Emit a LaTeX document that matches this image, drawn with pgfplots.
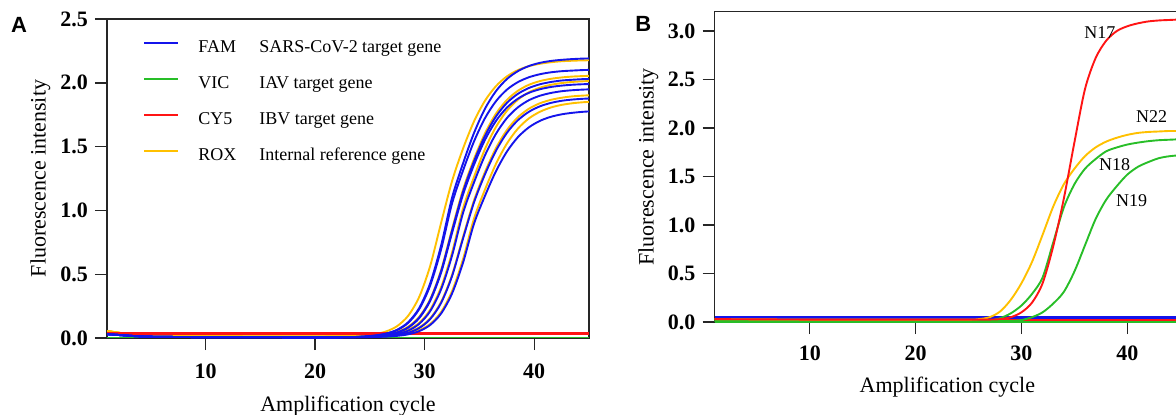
\documentclass[border=0pt]{standalone}
\usepackage{fontspec}
\setmainfont{Liberation Serif}
\newfontfamily\arialfont{Liberation Sans}
\usepackage{pgfplots}
\usepackage{pgfplotstable}
\pgfplotsset{compat=1.18}

\definecolor{famblue}{RGB}{20,20,235}
\definecolor{vicgreen}{RGB}{40,190,40}
\definecolor{cyred}{RGB}{255,20,20}
\definecolor{roxyellow}{RGB}{255,192,0}

% panel A: Y = ROX curves, B = FAM curves
\pgfplotstableread{
x    Y1    B1    B2    Y2    B3    B4    Y3    B5    Y4    B6    Y5    B7
1    0.055 0.030 0.030 0.055 0.030 0.030 0.055 0.030 0.055 0.030 0.055 0.030
2    0.042 0.024 0.024 0.042 0.024 0.024 0.042 0.024 0.042 0.024 0.042 0.024
3    0.030 0.018 0.018 0.030 0.018 0.018 0.030 0.018 0.030 0.018 0.030 0.018
4    0.022 0.013 0.013 0.022 0.013 0.013 0.022 0.013 0.022 0.013 0.022 0.013
6    0.016 0.009 0.009 0.016 0.009 0.009 0.016 0.009 0.016 0.009 0.016 0.009
10   0.013 0.007 0.007 0.013 0.007 0.007 0.013 0.007 0.013 0.007 0.013 0.007
15   0.012 0.006 0.006 0.012 0.006 0.006 0.012 0.006 0.012 0.006 0.012 0.006
20   0.012 0.005 0.005 0.012 0.005 0.005 0.012 0.005 0.012 0.005 0.012 0.005
23   0.013 0.006 0.006 0.013 0.006 0.006 0.013 0.006 0.012 0.006 0.012 0.006
24.5 0.020 0.012 0.012 0.015 0.010 0.010 0.013 0.008 0.012 0.007 0.012 0.006
25.5 0.031 0.020 0.019 0.020 0.015 0.014 0.017 0.011 0.014 0.009 0.013 0.008
26.5 0.052 0.035 0.034 0.029 0.024 0.024 0.023 0.018 0.019 0.014 0.016 0.011
27.5 0.094 0.065 0.063 0.050 0.044 0.043 0.037 0.032 0.028 0.023 0.022 0.017
28.5 0.175 0.124 0.119 0.089 0.083 0.082 0.065 0.058 0.047 0.041 0.035 0.029
29.5 0.322 0.235 0.226 0.166 0.159 0.156 0.119 0.111 0.083 0.078 0.061 0.054
30.5 0.564 0.428 0.411 0.304 0.297 0.291 0.221 0.210 0.154 0.148 0.110 0.102
31.5 0.903 0.725 0.695 0.533 0.523 0.513 0.399 0.382 0.283 0.275 0.204 0.192
32.5 1.230 1.100 1.055 0.854 0.841 0.824 0.670 0.646 0.495 0.485 0.368 0.349
33.5 1.484 1.368 1.312 1.163 1.146 1.124 1.015 0.980 0.792 0.779 0.618 0.590
34.5 1.697 1.606 1.540 1.402 1.384 1.357 1.261 1.219 1.078 1.062 0.935 0.895
35.5 1.859 1.796 1.722 1.603 1.583 1.552 1.480 1.431 1.300 1.282 1.162 1.113
36.5 1.973 1.934 1.855 1.757 1.735 1.700 1.653 1.599 1.487 1.466 1.363 1.306
37.5 2.050 2.029 1.946 1.865 1.842 1.805 1.780 1.723 1.629 1.607 1.523 1.460
38.5 2.099 2.091 2.005 1.937 1.913 1.875 1.867 1.807 1.729 1.706 1.640 1.573
39.5 2.130 2.131 2.043 1.984 1.959 1.921 1.925 1.863 1.796 1.772 1.720 1.650
40.5 2.149 2.156 2.067 2.013 1.988 1.949 1.961 1.898 1.839 1.815 1.772 1.701
41.5 2.161 2.171 2.082 2.031 2.006 1.967 1.984 1.920 1.866 1.842 1.806 1.733
42.5 2.169 2.180 2.091 2.042 2.018 1.978 1.998 1.934 1.883 1.859 1.827 1.753
43.5 2.173 2.186 2.096 2.049 2.024 1.985 2.007 1.942 1.894 1.869 1.840 1.765
44.5 2.176 2.190 2.100 2.053 2.029 1.989 2.012 1.947 1.900 1.875 1.848 1.773
45.5 2.177 2.192 2.102 2.056 2.031 1.991 2.015 1.950 1.904 1.879 1.852 1.778
}\panelA

% panel B: clinical samples
\pgfplotstableread{
x  N17   N22   N18   N19
1  0.030 0.030 0.010 0.010
10 0.025 0.025 0.010 0.010
20 0.025 0.025 0.010 0.010
25 0.025 0.025 0.010 0.010
26 0.025 0.030 0.010 0.010
27 0.025 0.050 0.015 0.010
28 0.030 0.110 0.040 0.010
29 0.050 0.230 0.090 0.010
30 0.100 0.400 0.170 0.020
31 0.200 0.620 0.290 0.050
32 0.400 0.900 0.460 0.100
33 0.780 1.190 0.820 0.190
34 1.270 1.420 1.180 0.310
35 1.850 1.580 1.420 0.520
36 2.400 1.710 1.580 0.790
37 2.720 1.800 1.680 1.060
38 2.900 1.860 1.760 1.260
39 3.000 1.900 1.800 1.400
40 3.050 1.930 1.830 1.520
41 3.080 1.950 1.850 1.600
42 3.100 1.960 1.865 1.650
43 3.110 1.965 1.875 1.690
44 3.115 1.970 1.880 1.710
45 3.120 1.970 1.885 1.720
}\panelB

\pgfplotsset{
  qpcr/.style={
    scale only axis,
    anchor=south west,
    xmin=1, xmax=45, ymin=0,
    xtick={10,20,30,40},
    tick align=outside,
    tick pos=left,
    major tick length=6pt,
    axis line style={line width=0.7pt, black!85},
    major tick style={line width=0.7pt, black!85},
    /pgf/number format/assume math mode=true,
    tick label style={font=\fontsize{11}{13}\selectfont\bfseries},
    yticklabel style={/pgf/number format/fixed, /pgf/number format/fixed zerofill, /pgf/number format/precision=1},
    label style={font=\fontsize{11}{13}\selectfont},
    xlabel={Amplification cycle},
    ylabel={Fluorescence intensity},
    every axis plot/.append style={line width=0.95pt, no markers, smooth},
  }
}

\begin{document}
\begin{tikzpicture}

% ---------- A ----------
\begin{axis}[qpcr,
    at={(53.5pt,38pt)},
    width=241pt, height=159.5pt,
    ymax=2.5, ytick={0,0.5,1,1.5,2,2.5},
    xticklabel style={yshift=-3.5pt},
    xlabel style={at={(rel axis cs:0.5,0)}, anchor=base, yshift=-36.8pt},
    ylabel style={at={(axis description cs:-0.138,0.5)}, anchor=center},
    legend cell align=left,
    legend image code/.code={\draw[#1] (0pt,2.8pt) -- (17pt,2.8pt);},
    legend style={at={(rel axis cs:0,1)}, anchor=north west,
        xshift=18pt, yshift=-10.15pt,
        draw=none, fill=none, inner sep=0pt, row sep=9.5pt,
        font=\fontsize{9}{11}\selectfont,
        nodes={inner sep=0pt, text height=6.5pt, text depth=2pt},
        /tikz/every odd column/.append style={column sep=9.5pt}},
]
    \addplot[vicgreen, forget plot] coordinates {(1,0.004) (45,0.004)};

    \addplot[roxyellow, forget plot] table[x=x, y=Y1] {\panelA};
    \addplot[roxyellow, forget plot] table[x=x, y=Y2] {\panelA};
    \addplot[roxyellow, forget plot] table[x=x, y=Y3] {\panelA};
    \addplot[roxyellow, forget plot] table[x=x, y=Y4] {\panelA};
    \addplot[roxyellow, forget plot] table[x=x, y=Y5] {\panelA};

    \addplot[cyred, line width=1.1pt, forget plot] coordinates {(1,0.035) (45,0.035)};

    \addplot[famblue, forget plot] table[x=x, y=B1] {\panelA};
    \addplot[famblue, forget plot] table[x=x, y=B2] {\panelA};
    \addplot[famblue, forget plot] table[x=x, y=B3] {\panelA};
    \addplot[famblue, forget plot] table[x=x, y=B4] {\panelA};
    \addplot[famblue, forget plot] table[x=x, y=B5] {\panelA};
    \addplot[famblue, forget plot] table[x=x, y=B6] {\panelA};
    \addplot[famblue, forget plot] table[x=x, y=B7] {\panelA};

    \addlegendimage{famblue, line width=1pt}
    \addlegendentry{\makebox[30.5pt][l]{FAM}SARS-CoV-2 target gene}
    \addlegendimage{vicgreen, line width=1pt}
    \addlegendentry{\makebox[30.5pt][l]{VIC}IAV target gene}
    \addlegendimage{cyred, line width=1pt}
    \addlegendentry{\makebox[30.5pt][l]{CY5}IBV target gene}
    \addlegendimage{roxyellow, line width=1pt}
    \addlegendentry{\makebox[30.5pt][l]{ROX}Internal reference gene}
\end{axis}

% ---------- B ----------
\begin{axis}[qpcr,
    at={(357.25pt,46pt)},
    width=232.85pt, height=155.15pt,
    ymax=3.2, ytick={0,0.5,1,1.5,2,2.5,3},
    xticklabel style={yshift=-2.5pt},
    xlabel style={at={(rel axis cs:0.5,0)}, anchor=base, yshift=-35.2pt},
    ylabel style={at={(axis description cs:-0.142,0.5)}, anchor=center},
]
    \addplot[vicgreen] coordinates {(1,0.004) (45,0.004)};
    \addplot[vicgreen] coordinates {(1,0.010) (45,0.010)};
    \addplot[cyred] coordinates {(1,0.025) (45,0.025)};
    \addplot[famblue] coordinates {(1,0.042) (45,0.042)};
    \addplot[famblue] coordinates {(1,0.052) (45,0.052)};

    \addplot[vicgreen] table[x=x, y=N19] {\panelB};
    \addplot[vicgreen] table[x=x, y=N18] {\panelB};
    \addplot[roxyellow] table[x=x, y=N22] {\panelB};
    \addplot[cyred] table[x=x, y=N17] {\panelB};

    \begin{scope}[every node/.style={font=\fontsize{9}{11}\selectfont, inner sep=0pt}]
    \node at (axis cs:37.4,2.99) {N17};
    \node at (axis cs:42.3,2.12) {N22};
    \node at (axis cs:38.8,1.62) {N18};
    \node at (axis cs:40.4,1.25) {N19};
    \end{scope}
\end{axis}

% panel letters
\node[anchor=base west, inner sep=0pt, font=\arialfont\bfseries\fontsize{11}{13}\selectfont] at (5.35pt,190.85pt) {A};
\node[anchor=base west, inner sep=0pt, font=\arialfont\bfseries\fontsize{11}{13}\selectfont] at (317.5pt,191.15pt) {B};

\pgfresetboundingbox
\useasboundingbox (0,0) rectangle (588pt,207pt);
\end{tikzpicture}
\end{document}
